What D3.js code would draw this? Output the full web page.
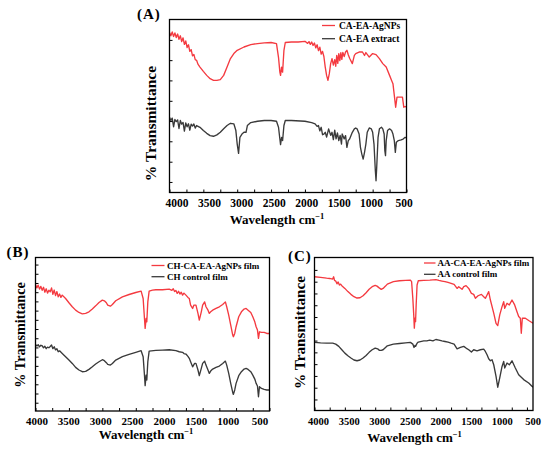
<!DOCTYPE html>
<html>
<head>
<meta charset="utf-8">
<script src="https://cdnjs.cloudflare.com/ajax/libs/d3/7.8.5/d3.min.js"></script>
<style>
  body { margin: 0; background: #fff; }
  svg { display: block; }
  text { font-family: "Liberation Serif", "Times New Roman", serif; font-weight: bold; fill: #000; }
</style>
</head>
<body>
<script>
// tick labels shared by all three panels
const xTickLabels = [4000, 3500, 3000, 2500, 2000, 1500, 1000, 500];

// (A) relative transmittance, [wavenumber, %T]
const caEaAgNPs = [
  [4000, 92.5], [3980, 90.6], [3960, 92.8], [3940, 90.2], [3920, 92.2], [3900, 89.6], [3880, 91.6],
  [3860, 88.6], [3840, 90.6], [3820, 87.2], [3800, 89.4], [3780, 85.6], [3760, 87.6], [3740, 83.8],
  [3720, 85.4], [3700, 81.6], [3680, 82.6], [3660, 79.0], [3640, 79.8], [3620, 76.8], [3600, 76.4],
  [3580, 74.2], [3550, 72.5], [3500, 70.0], [3450, 67.7], [3400, 65.8], [3350, 64.8], [3300, 64.8],
  [3250, 65.2], [3200, 67.7], [3150, 72.5], [3100, 77.4], [3050, 80.3], [3000, 82.2], [2900, 84.1],
  [2800, 85.5], [2700, 86.1], [2600, 86.5], [2500, 86.7], [2420, 86.1], [2390, 78.0], [2370, 69.6],
  [2360, 67.7], [2345, 72.5], [2330, 69.6], [2310, 82.2], [2290, 86.7], [2200, 87.0], [2100, 87.0],
  [2000, 87.4], [1960, 86.2], [1940, 87.2], [1920, 85.6], [1900, 87.0], [1880, 85.0], [1860, 86.4],
  [1840, 83.6], [1820, 85.4], [1800, 82.0], [1780, 84.0], [1760, 80.0], [1740, 81.6], [1720, 78.6],
  [1700, 72.5], [1680, 67.7], [1660, 64.8], [1640, 68.7], [1620, 74.5], [1600, 77.4], [1580, 73.6],
  [1560, 76.8], [1545, 73.0], [1530, 79.3], [1515, 74.6], [1500, 80.3], [1485, 76.2], [1470, 80.8],
  [1455, 77.0], [1440, 81.0], [1420, 78.6], [1400, 81.2], [1380, 82.2], [1360, 79.6], [1340, 77.6],
  [1300, 74.5], [1270, 79.3], [1250, 80.3], [1200, 81.2], [1150, 81.2], [1120, 79.2], [1100, 80.9],
  [1050, 78.3], [1000, 80.3], [950, 79.7], [900, 77.4], [850, 74.5], [800, 72.5], [750, 67.7],
  [720, 64.8], [700, 62.9], [680, 56.1], [660, 49.3], [640, 55.1], [600, 55.1], [560, 55.1],
  [540, 49.3], [520, 49.7], [500, 49.3]
];
const caEaExtract = [
  [4000, 43.5], [3980, 41.6], [3960, 43.0], [3940, 38.0], [3920, 42.2], [3900, 41.0], [3880, 42.0],
  [3860, 37.0], [3840, 41.6], [3820, 39.5], [3800, 40.5], [3780, 35.5], [3760, 40.2], [3740, 38.0],
  [3720, 39.7], [3700, 36.0], [3680, 39.5], [3660, 38.4], [3640, 39.6], [3620, 37.2], [3600, 38.7],
  [3550, 37.7], [3500, 35.8], [3450, 34.2], [3400, 32.9], [3350, 32.5], [3300, 33.3], [3250, 34.8],
  [3200, 36.8], [3150, 38.7], [3100, 40.0], [3050, 39.7], [3020, 35.8], [3000, 28.0], [2980, 22.6],
  [2960, 31.9], [2930, 33.8], [2900, 34.8], [2870, 34.8], [2850, 38.7], [2800, 40.4], [2700, 41.2],
  [2600, 41.6], [2500, 41.6], [2420, 41.2], [2390, 37.7], [2370, 30.9], [2360, 27.7], [2345, 31.9],
  [2330, 30.0], [2310, 38.7], [2290, 41.6], [2200, 41.6], [2000, 41.2], [1900, 40.4], [1850, 39.7],
  [1820, 38.2], [1800, 38.7], [1780, 35.6], [1760, 37.7], [1740, 33.4], [1720, 33.8], [1700, 34.8],
  [1680, 32.0], [1650, 36.8], [1620, 33.0], [1600, 34.8], [1580, 30.6], [1560, 36.0], [1540, 31.0],
  [1520, 34.4], [1500, 30.0], [1480, 33.0], [1460, 28.0], [1450, 33.8], [1420, 31.0], [1400, 32.9],
  [1380, 26.1], [1360, 30.0], [1340, 30.9], [1300, 34.8], [1270, 36.8], [1250, 37.3], [1230, 36.8],
  [1200, 33.8], [1180, 26.1], [1160, 22.2], [1140, 19.3], [1120, 23.2], [1100, 28.0], [1080, 34.8],
  [1050, 37.3], [1020, 36.8], [1000, 34.8], [980, 28.0], [960, 12.6], [950, 6.8], [940, 14.5],
  [920, 31.9], [900, 36.8], [870, 37.7], [850, 36.8], [830, 33.8], [820, 24.2], [810, 21.3],
  [800, 30.0], [780, 35.8], [750, 36.8], [720, 35.8], [700, 33.8], [680, 30.0], [665, 23.2],
  [650, 29.0], [620, 30.0], [580, 30.4], [550, 30.9], [520, 31.9], [500, 31.5]
];

// (B)
const chCaEaAgNPsFilm = [
  [4000, 82.4], [3980, 80.2], [3960, 82.0], [3940, 79.4], [3920, 81.2], [3900, 78.6], [3880, 80.6],
  [3860, 77.4], [3840, 79.6], [3820, 76.8], [3800, 78.7], [3780, 77.6], [3760, 80.2], [3740, 76.0],
  [3720, 78.8], [3700, 75.2], [3680, 77.8], [3660, 74.4], [3640, 76.2], [3620, 74.0], [3600, 75.5],
  [3550, 73.3], [3500, 70.5], [3450, 67.9], [3400, 65.7], [3350, 64.2], [3300, 63.3], [3250, 63.6],
  [3200, 64.6], [3150, 66.4], [3100, 68.5], [3050, 70.7], [3000, 72.2], [2970, 71.8], [2940, 70.5],
  [2920, 69.0], [2880, 68.3], [2850, 69.4], [2800, 71.8], [2700, 74.4], [2600, 75.9], [2500, 77.2],
  [2420, 78.1], [2390, 73.3], [2370, 60.3], [2360, 53.8], [2345, 60.3], [2335, 58.1], [2320, 71.1],
  [2300, 78.1], [2250, 78.7], [2200, 79.0], [2100, 79.0], [2000, 79.4], [1960, 78.6], [1940, 79.6],
  [1920, 77.8], [1900, 78.5], [1880, 76.6], [1860, 78.0], [1840, 76.2], [1820, 77.4], [1800, 75.5],
  [1780, 76.8], [1750, 75.5], [1720, 74.0], [1700, 73.3], [1680, 69.0], [1650, 66.8], [1630, 69.0],
  [1600, 69.0], [1570, 63.6], [1550, 59.2], [1520, 64.6], [1500, 69.0], [1470, 71.1], [1450, 67.9],
  [1420, 65.7], [1400, 63.6], [1380, 64.6], [1350, 65.7], [1300, 66.8], [1250, 67.9], [1200, 69.4],
  [1160, 71.1], [1140, 67.9], [1110, 62.5], [1080, 56.0], [1050, 49.5], [1040, 48.4], [1020, 50.5],
  [1000, 54.9], [960, 61.4], [920, 64.6], [880, 66.4], [850, 66.8], [820, 65.7], [780, 64.2],
  [750, 61.4], [720, 58.1], [700, 54.9], [680, 52.7], [665, 47.3], [650, 51.6], [620, 51.2],
  [580, 51.2], [540, 50.5], [500, 50.5]
];
const chControlFilm = [
  [4000, 43.4], [3980, 42.4], [3960, 43.2], [3940, 41.8], [3920, 42.8], [3900, 42.5], [3880, 41.2],
  [3860, 42.2], [3840, 40.6], [3820, 41.6], [3800, 41.2], [3780, 42.0], [3760, 43.0], [3740, 40.6],
  [3720, 41.8], [3700, 39.8], [3680, 40.6], [3660, 38.6], [3640, 39.2], [3600, 37.5], [3550, 35.4],
  [3500, 33.2], [3450, 31.0], [3400, 28.4], [3350, 26.7], [3300, 25.6], [3250, 25.8], [3200, 27.1],
  [3150, 28.8], [3100, 30.6], [3050, 32.1], [3000, 33.4], [2970, 32.8], [2940, 31.5], [2920, 30.4],
  [2880, 29.9], [2850, 31.0], [2800, 33.2], [2700, 35.4], [2600, 36.9], [2500, 38.2], [2420, 39.3],
  [2390, 35.4], [2370, 23.4], [2360, 16.5], [2345, 23.4], [2335, 20.2], [2320, 32.1], [2300, 39.0],
  [2200, 39.5], [2100, 39.7], [2000, 39.9], [1900, 39.3], [1850, 38.6], [1800, 38.2], [1780, 37.4],
  [1750, 37.1], [1720, 35.6], [1700, 34.3], [1680, 32.1], [1650, 28.8], [1620, 31.0], [1600, 31.0],
  [1570, 26.7], [1550, 23.0], [1520, 27.8], [1500, 31.0], [1470, 32.5], [1450, 29.9], [1420, 26.7],
  [1400, 24.5], [1380, 26.0], [1350, 27.3], [1300, 28.4], [1250, 29.3], [1200, 31.0], [1160, 32.5],
  [1140, 29.9], [1110, 24.5], [1080, 18.0], [1050, 12.1], [1040, 10.8], [1020, 13.7], [1000, 18.0],
  [960, 23.0], [920, 25.6], [880, 27.3], [850, 27.8], [820, 27.1], [780, 25.6], [750, 23.4],
  [720, 20.8], [700, 18.0], [680, 16.3], [665, 9.3], [650, 15.8], [620, 14.7], [580, 14.1],
  [540, 13.7], [500, 13.7]
];

// (C)
const aaCaEaAgNPsFilm = [
  [4000, 87.4], [3900, 87.0], [3800, 86.5], [3750, 86.3], [3700, 85.9], [3685, 87.4], [3670, 85.0],
  [3650, 84.6], [3630, 82.8], [3610, 84.0], [3590, 82.0], [3570, 82.6], [3550, 81.6], [3500, 79.8],
  [3450, 77.7], [3400, 75.9], [3350, 74.4], [3300, 73.5], [3250, 73.7], [3200, 75.0], [3150, 77.0],
  [3100, 79.2], [3050, 80.9], [3000, 81.8], [2970, 81.3], [2940, 80.3], [2900, 79.2], [2870, 79.8],
  [2830, 81.3], [2800, 82.6], [2700, 84.2], [2600, 84.8], [2500, 85.0], [2420, 85.2], [2400, 84.2],
  [2380, 73.3], [2365, 62.5], [2355, 53.8], [2345, 60.3], [2335, 58.1], [2325, 69.0], [2310, 82.0],
  [2290, 84.8], [2200, 85.0], [2100, 85.2], [2000, 85.5], [1950, 85.0], [1900, 84.6], [1850, 84.2],
  [1800, 83.7], [1750, 83.1], [1700, 82.4], [1651, 79.8], [1624, 80.9], [1569, 79.2], [1541, 80.9],
  [1503, 81.6], [1459, 79.8], [1415, 76.6], [1377, 75.9], [1349, 73.3], [1305, 75.0], [1250, 75.9],
  [1212, 74.4], [1185, 73.3], [1157, 75.5], [1130, 77.7], [1102, 72.2], [1047, 63.6], [1009, 57.0],
  [981, 55.5], [948, 62.5], [910, 67.9], [883, 71.1], [866, 66.8], [828, 70.1], [790, 69.0],
  [746, 72.2], [702, 69.0], [664, 64.6], [636, 61.4], [609, 60.3], [593, 50.5], [576, 60.3],
  [526, 60.3], [471, 58.8], [400, 57.0]
];
const aaControlFilm = [
  [4000, 44.5], [3900, 44.2], [3800, 44.0], [3700, 44.0], [3650, 43.4], [3600, 41.9], [3550, 39.7],
  [3500, 37.5], [3450, 35.8], [3400, 34.3], [3350, 33.0], [3300, 32.5], [3250, 33.0], [3200, 34.3],
  [3150, 36.0], [3100, 38.0], [3050, 39.7], [3000, 40.8], [2960, 40.3], [2930, 39.3], [2900, 39.3],
  [2870, 39.7], [2830, 41.2], [2800, 42.3], [2700, 43.4], [2600, 43.8], [2500, 44.2], [2420, 44.5],
  [2380, 43.4], [2360, 41.2], [2345, 42.5], [2335, 41.9], [2310, 44.0], [2290, 44.7], [2200, 45.5],
  [2150, 45.5], [2100, 46.0], [2050, 45.5], [2000, 46.4], [1950, 46.0], [1900, 45.5], [1850, 45.1],
  [1800, 44.7], [1750, 44.0], [1700, 43.4], [1651, 40.3], [1596, 41.2], [1541, 41.9], [1503, 40.8],
  [1459, 39.7], [1415, 38.2], [1377, 39.7], [1322, 39.0], [1267, 39.7], [1212, 40.1], [1185, 38.6],
  [1157, 36.4], [1130, 33.8], [1102, 32.5], [1075, 33.2], [1047, 29.9], [1009, 22.3], [981, 15.2],
  [948, 21.3], [910, 28.8], [883, 32.1], [866, 27.8], [828, 31.0], [790, 29.9], [746, 32.5],
  [691, 27.8], [636, 23.4], [554, 20.2], [471, 18.0], [400, 15.2]
];

// unlabeled y tick positions (same %T units)
const yTicksA = [6.1, 17.8, 29.6, 41.3, 53.0, 64.8, 76.5, 88.2];
const yTicksB = d3.range(5.4, 99, 6);
const yTicksC = d3.range(7.2, 99, 7.7);

const RED = "#f43a40";
const GREY = "#3a3a3a";

const panels = [
  {
    tag: "(A)", tagX: 137, tagY: 18.5,
    left: 169.5, right: 406.5, top: 19.5, bottom: 192.5,
    xDomain: [4000, 500], labelRange: [177, 404], labelSize: 11.5,
    yTicks: yTicksA, yTitleX: 156, yTitleY: 123.5, yTitleSize: 15.5,
    titleX: 277, titleY: 223.5,
    series: [
      { name: "CA-EA-AgNPs", data: caEaAgNPs, color: RED },
      { name: "CA-EA extract", data: caEaExtract, color: GREY }
    ],
    legend: { x: 322, y: 25.5, len: 13, gap: 4, row: 13.2, size: 9.5 }
  },
  {
    tag: "(B)", tagX: 6.5, tagY: 256.5,
    left: 35.5, right: 269.5, top: 257.5, bottom: 411,
    xDomain: [4000, 500], labelRange: [37, 260], labelSize: 11,
    yTicks: yTicksB, yTitleX: 25, yTitleY: 335, yTitleSize: 14.2,
    titleX: 146, titleY: 438.5,
    series: [
      { name: "CH-CA-EA-AgNPs film", data: chCaEaAgNPsFilm, color: RED },
      { name: "CH control film", data: chControlFilm, color: GREY }
    ],
    legend: { x: 151.5, y: 265.5, len: 13, gap: 2.5, row: 11.2, size: 9 }
  },
  {
    tag: "(C)", tagX: 288, tagY: 260.5,
    left: 314.5, right: 533, top: 257.5, bottom: 410.5,
    xDomain: [4000, 400], labelRange: [318.5, 533], labelSize: 10.5,
    yTicks: yTicksC, yTitleX: 305, yTitleY: 332.5, yTitleSize: 15.2,
    titleX: 414.5, titleY: 441.5,
    series: [
      { name: "AA-CA-EA-AgNPs film", data: aaCaEaAgNPsFilm, color: RED },
      { name: "AA control film", data: aaControlFilm, color: GREY }
    ],
    legend: { x: 424, y: 263, len: 11.5, gap: 2, row: 11.3, size: 9 }
  }
];

const svg = d3.select("body").append("svg")
  .attr("width", 550)
  .attr("height", 454);

function drawPanel(p) {
  const g = svg.append("g");

  const x = d3.scaleLinear().domain(p.xDomain).range([p.left, p.right]);
  const y = d3.scaleLinear().domain([0, 100]).range([p.bottom, p.top]);
  // the printed numbers sit a little off their ticks in the source figure
  const xLabel = d3.scaleLinear().domain([4000, 500]).range(p.labelRange);

  const clipId = "clip" + p.tag.replace(/\W/g, "");
  g.append("clipPath").attr("id", clipId)
    .append("rect")
    .attr("x", p.left).attr("y", p.top)
    .attr("width", p.right - p.left).attr("height", p.bottom - p.top);

  const line = d3.line().x(d => x(d[0])).y(d => y(d[1]));

  g.append("g").attr("clip-path", `url(#${clipId})`)
    .selectAll("path")
    .data(p.series)
    .join("path")
    .attr("fill", "none")
    .attr("stroke", d => d.color)
    .attr("stroke-width", 1.35)
    .attr("stroke-linejoin", "round")
    .attr("d", d => line(d.data));

  // inward ticks, no labels on y
  const xTicks = d3.range(4000, p.xDomain[1] - 1, -250);
  const bottomAxis = d3.axisBottom(x).tickValues(xTicks).tickSize(-3).tickFormat("");
  g.append("g")
    .attr("transform", `translate(0,${p.bottom})`)
    .call(bottomAxis)
    .call(a => a.select(".domain").remove())
    .call(a => a.selectAll("line").attr("stroke", "#000").attr("stroke-width", 1));

  const leftAxis = d3.axisLeft(y).tickValues(p.yTicks).tickSize(-3).tickFormat("");
  g.append("g")
    .attr("transform", `translate(${p.left},0)`)
    .call(leftAxis)
    .call(a => a.select(".domain").remove())
    .call(a => a.selectAll("line").attr("stroke", "#000").attr("stroke-width", 1));

  g.append("rect")
    .attr("x", p.left).attr("y", p.top)
    .attr("width", p.right - p.left).attr("height", p.bottom - p.top)
    .attr("fill", "none")
    .attr("stroke", "#000")
    .attr("stroke-width", 1.3);

  g.append("g")
    .selectAll("text")
    .data(xTickLabels)
    .join("text")
    .attr("x", d => xLabel(d))
    .attr("y", p.bottom + 14)
    .attr("text-anchor", "middle")
    .attr("font-size", p.labelSize)
    .text(d => d);

  const title = g.append("text")
    .attr("x", p.titleX)
    .attr("y", p.titleY)
    .attr("text-anchor", "middle")
    .attr("font-size", 13);
  title.append("tspan").text("Wavelength cm");
  title.append("tspan").attr("dy", -5).attr("font-size", 8.5).text("\u22121");

  g.append("text")
    .attr("transform", `translate(${p.yTitleX},${p.yTitleY}) rotate(-90)`)
    .attr("text-anchor", "middle")
    .attr("font-size", p.yTitleSize)
    .text("% Transmittance");

  g.append("text")
    .attr("x", p.tagX)
    .attr("y", p.tagY)
    .attr("font-size", 15)
    .attr("letter-spacing", 1)
    .text(p.tag);

  const lg = p.legend;
  const rows = g.append("g")
    .selectAll("g")
    .data(p.series)
    .join("g")
    .attr("transform", (d, i) => `translate(${lg.x},${lg.y + i * lg.row})`);
  rows.append("line")
    .attr("x1", 0).attr("x2", lg.len)
    .attr("stroke", d => d.color)
    .attr("stroke-width", 1.3);
  rows.append("text")
    .attr("x", lg.len + lg.gap)
    .attr("y", lg.size * 0.35)
    .attr("font-size", lg.size)
    .text(d => d.name);
}

panels.forEach(drawPanel);
</script>
</body>
</html>
